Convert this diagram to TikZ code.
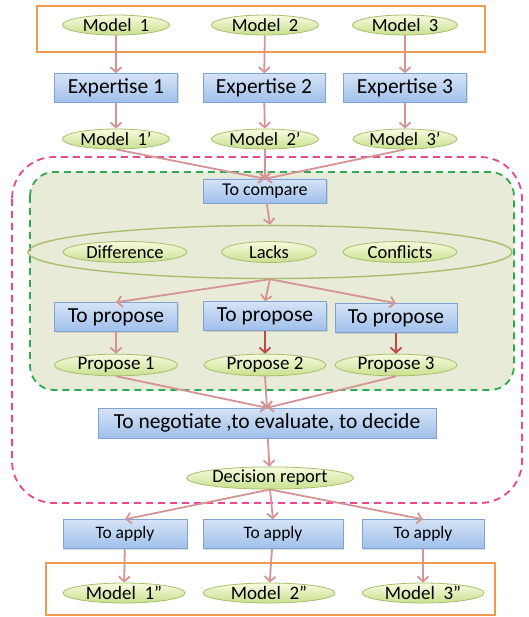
\documentclass[tikz,border=0pt]{standalone}
\usepackage{fontspec}
\setmainfont{Carlito}
\usetikzlibrary{positioning}
\usetikzlibrary{arrows.meta}
\usetikzlibrary{shapes.geometric}
\usetikzlibrary{shadows}
\definecolor{myrose}{HTML}{D49494}
\definecolor{mydarkrose}{HTML}{C04848}
\definecolor{myblueline}{HTML}{7FA3D3}
\definecolor{mybluetop}{HTML}{D5E3F6}
\definecolor{mybluebot}{HTML}{9FC0EA}
\definecolor{mygreenline}{HTML}{A9BE6C}
\definecolor{mygreentop}{HTML}{F6FBDF}
\definecolor{mygreenbot}{HTML}{C9E08E}
\definecolor{myorange}{HTML}{EF9A4F}
\definecolor{mypink}{HTML}{E8478C}
\definecolor{mygreen}{HTML}{2EAA52}
\definecolor{myolive}{HTML}{E7EBD7}
\tikzstyle{mybox}=[draw=myblueline,top color=mybluetop,bottom color=mybluebot,
                   inner sep=0pt,minimum height=29,minimum width=#1,
                   drop shadow={opacity=0.25,shadow xshift=1pt,shadow yshift=-1pt},
                   font=\fontsize{21.5}{21.5}\selectfont]
\tikzstyle{myellipse}=[ellipse,draw=mygreenline,thick,top color=mygreentop,bottom color=mygreenbot,
                   inner sep=0pt,minimum height=20,minimum width=#1,
                   font=\fontsize{18.5}{18.5}\selectfont]
\tikzstyle{myarrow}=[-{Straight Barb[length=5,width=11]},#1,line width=1.8]
\tikzstyle{myframe}=[draw=myorange,line width=2.5]

\begin{document}
\begin{tikzpicture}[x=1pt,y=-1pt]
  \useasboundingbox (0,0) rectangle (528,617);
  \def\xa{116} % left column
  \def\xb{265} % middle column
  \def\xc{405} % right column

  % FRAMES
  \draw[myframe] (37,6) rectangle (485,52);
  \draw[mypink,dashed,line width=1.8,dash pattern=on 7pt off 5pt,rounded corners=42]
    (12,157) rectangle (522,503);
  \draw[mygreen,dashed,line width=1.8,fill=myolive,dash pattern=on 7pt off 5pt,rounded corners=24]
    (30,172) rectangle (514,390);
  \draw[myframe] (46,563) rectangle (495,615);

  % models
  \node[myellipse=107] (m1) at (\xa,25) {Model~ 1};
  \node[myellipse=107] (m2) at (\xb,25) {Model~ 2};
  \node[myellipse=105] (m3) at (\xc,25) {Model~ 3};

  % expertise
  \node[mybox=123] (e1) at (\xa,88) {Expertise 1};
  \node[mybox=122] (e2) at (264,88) {Expertise 2};
  \node[mybox=123] (e3) at (\xc,88) {Expertise 3};
  \draw[myarrow=myrose] (m1) -- (e1);
  \draw[myarrow=myrose] (m2) -- (e2);
  \draw[myarrow=myrose] (m3) -- (e3);

  % models'
  \node[myellipse=107] (m1p) at (\xa,139) {Model~ 1’};
  \node[myellipse=107] (m2p) at (\xb,139) {Model~ 2’};
  \node[myellipse=104] (m3p) at (\xc,139) {Model~ 3’};
  \draw[myarrow=myrose] (e1) -- (m1p);
  \draw[myarrow=myrose] (e2) -- (m2p);
  \draw[myarrow=myrose] (e3) -- (m3p);

  % compare
  \node[mybox=123,minimum height=24,font=\fontsize{18}{18}\selectfont] (cmp) at (\xb,191) {To compare};
  \draw[myarrow=myrose] (m1p.south) -- (cmp.north);
  \draw[myarrow=myrose] (m2p.south) -- (cmp.north);
  \draw[myarrow=myrose] (m3p.south) -- (cmp.north);

  % results of the comparison
  \node[ellipse,draw=mygreenline,line width=1.4,minimum width=484,minimum height=53] (res) at (270,252) {};
  \node[myellipse=124,minimum height=21] (dif) at (125,252) {Difference};
  \node[myellipse=95,minimum height=21] (lck) at (269,252) {Lacks};
  \node[myellipse=114,minimum height=21] (cfl) at (400,252) {Conflicts};
  \draw[myarrow=myrose] (cmp) -- (res.north);

  % propose
  \node[mybox=123] (tp1) at (\xa,317) {To propose};
  \node[mybox=123] (tp2) at (\xb,316) {To propose};
  \node[mybox=122] (tp3) at (396,318) {To propose};
  \draw[myarrow=myrose] (res.south) -- (tp1.north);
  \draw[myarrow=myrose] (res.south) -- (tp2.north);
  \draw[myarrow=myrose] (res.south) -- (tp3.north);

  \node[myellipse=123,font=\fontsize{19}{19}\selectfont] (p1) at (\xa,365) {Propose 1};
  \node[myellipse=122,font=\fontsize{19}{19}\selectfont] (p2) at (\xb,365) {Propose 2};
  \node[myellipse=122,font=\fontsize{19}{19}\selectfont] (p3) at (396,365) {Propose 3};
  \draw[myarrow=myrose] (tp1) -- (p1);
  \draw[myarrow=mydarkrose] (tp2) -- (p2);
  \draw[myarrow=mydarkrose] (tp3) -- (p3);

  % negotiate
  \node[mybox=338,minimum height=30] (neg) at (267,423) {To negotiate ,to evaluate, to decide};
  \draw[myarrow=myrose] (p1.south) -- (neg.north);
  \draw[myarrow=myrose] (p2.south) -- (neg.north);
  \draw[myarrow=myrose] (p3.south) -- (neg.north);

  % decision
  \node[myellipse=167] (dec) at (270,478) {Decision report};
  \draw[myarrow=myrose] (neg) -- (dec);

  % apply
  \node[mybox=124,font=\fontsize{17.5}{17.5}\selectfont] (ap1) at (125,534) {To apply};
  \node[mybox=140,font=\fontsize{17.5}{17.5}\selectfont] (ap2) at (273,534) {To apply};
  \node[mybox=122,font=\fontsize{17.5}{17.5}\selectfont] (ap3) at (423,534) {To apply};
  \draw[myarrow=myrose] (dec.south) -- (ap1.north);
  \draw[myarrow=myrose] (dec.south) -- (ap2.north);
  \draw[myarrow=myrose] (dec.south) -- (ap3.north);

  % models''
  \node[myellipse=122,font=\fontsize{19}{19}\selectfont] (m1s) at (124,593) {Model~ 1”};
  \node[myellipse=132,font=\fontsize{19}{19}\selectfont] (m2s) at (269,593) {Model~ 2”};
  \node[myellipse=122,font=\fontsize{19}{19}\selectfont] (m3s) at (423,593) {Model~ 3”};
  \draw[myarrow=myrose] (ap1) -- (m1s);
  \draw[myarrow=myrose] (ap2) -- (m2s);
  \draw[myarrow=myrose] (ap3) -- (m3s);
\end{tikzpicture}
\end{document}
